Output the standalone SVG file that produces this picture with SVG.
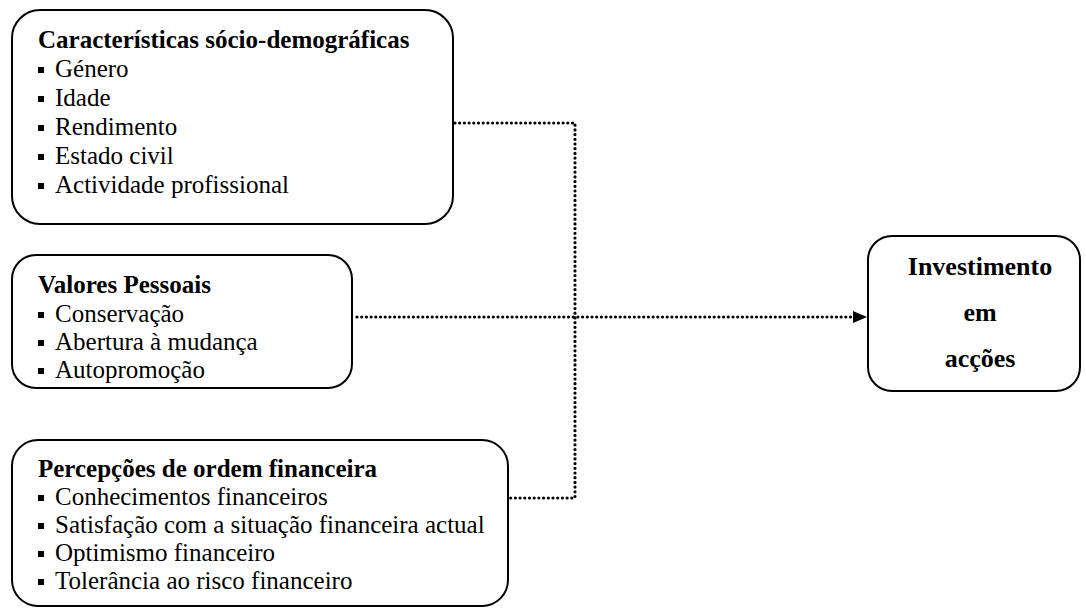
<svg xmlns="http://www.w3.org/2000/svg" width="1086" height="609" viewBox="0 0 1086 609">
<style>
.box{fill:#fff;stroke:#000;stroke-width:2}
.t{font-family:"Liberation Serif","Times New Roman",serif;font-size:25px;fill:#000}
.b{font-weight:bold}
.big{font-size:26px}
.bul{fill:#000}
.dot{fill:none;stroke:#000;stroke-width:3.2;stroke-linecap:round;stroke-dasharray:0 4.7}
</style>
<defs>
<marker id="arr" viewBox="0 0 14 14" refX="14" refY="7" markerWidth="14" markerHeight="14" markerUnits="userSpaceOnUse" orient="auto">
<path d="M0,1 L14,7 L0,13 Z" fill="#000"/>
</marker>
<rect id="sq" class="bul" width="6" height="6"/>
</defs>
<g id="connectors">
<path class="dot" d="M455,123 H575 V498 H510"/>
<path class="dot" d="M357,317 H852"/>
<line x1="850" y1="317" x2="867" y2="317" stroke="#000" stroke-width="0" marker-end="url(#arr)"/>
</g>
<g id="node-socio">
<rect class="box" x="12" y="10" width="441" height="214" rx="28"/>
<text class="t b" x="38" y="48">Características sócio-demográficas</text>
<use href="#sq" x="38" y="67"/><text class="t" x="55" y="77">Género</text>
<use href="#sq" x="38" y="96"/><text class="t" x="55" y="106">Idade</text>
<use href="#sq" x="38" y="125"/><text class="t" x="55" y="135">Rendimento</text>
<use href="#sq" x="38" y="154"/><text class="t" x="55" y="164">Estado civil</text>
<use href="#sq" x="38" y="183"/><text class="t" x="55" y="193">Actividade profissional</text>
</g>
<g id="node-valores">
<rect class="box" x="12" y="255" width="340" height="133" rx="24"/>
<text class="t b" x="38" y="293">Valores Pessoais</text>
<use href="#sq" x="38" y="312"/><text class="t" x="55" y="322">Conservação</text>
<use href="#sq" x="38" y="340"/><text class="t" x="55" y="350">Abertura à mudança</text>
<use href="#sq" x="38" y="368"/><text class="t" x="55" y="378">Autopromoção</text>
</g>
<g id="node-percepcoes">
<rect class="box" x="12" y="440" width="496" height="166" rx="26"/>
<text class="t b" x="38" y="477">Percepções de ordem financeira</text>
<use href="#sq" x="38" y="495"/><text class="t" x="55" y="505">Conhecimentos financeiros</text>
<use href="#sq" x="38" y="523"/><text class="t" x="55" y="533">Satisfação com a situação financeira actual</text>
<use href="#sq" x="38" y="551"/><text class="t" x="55" y="561">Optimismo financeiro</text>
<use href="#sq" x="38" y="579"/><text class="t" x="55" y="589">Tolerância ao risco financeiro</text>
</g>
<g id="node-investimento">
<rect class="box" x="868" y="236" width="212" height="155" rx="24"/>
<text class="t b big" x="980" y="275" text-anchor="middle">Investimento</text>
<text class="t b big" x="980" y="321" text-anchor="middle">em</text>
<text class="t b big" x="980" y="367" text-anchor="middle">acções</text>
</g>
</svg>
